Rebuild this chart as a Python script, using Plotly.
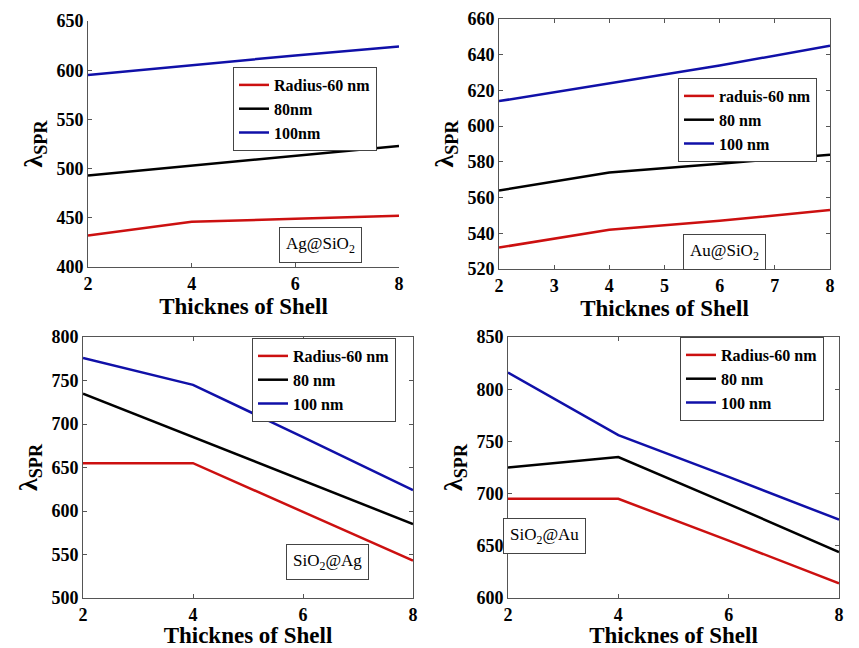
import plotly.graph_objects as go

OFF = 8                      # page body margin of the browser
W, H = 859 - OFF, 648 - OFF  # figure size so that it fills the window

# ---------------- data ----------------
shell_thickness = [2, 4, 6, 8]

ag_sio2_60 = [432, 446, 449, 452]
ag_sio2_80 = [493, 503, 513, 523]
ag_sio2_100 = [595, 605, 615, 624]

au_sio2_60 = [532, 542, 547, 553]
au_sio2_80 = [564, 574, 579, 584]
au_sio2_100 = [614, 624, 634, 645]

sio2_ag_60 = [655, 655, 599, 543]
sio2_ag_80 = [735, 685, 635, 585]
sio2_ag_100 = [776, 745, 685, 624]

sio2_au_60 = [695, 695, 655, 614]
sio2_au_80 = [725, 735, 690, 644]
sio2_au_100 = [816, 756, 716, 675]

names_p1 = ["Radius-60 nm", "80nm", "100nm"]
names_p2 = ["raduis-60 nm", "80 nm", "100 nm"]
names_p3 = ["Radius-60 nm", "80 nm", "100 nm"]
names_p4 = ["Radius-60 nm", "80 nm", "100 nm"]

labels = ["Ag@SiO<sub>2</sub>", "Au@SiO<sub>2</sub>", "SiO<sub>2</sub>@Ag", "SiO<sub>2</sub>@Au"]

# ---------------- style ----------------
FONT = "Liberation Serif, Times New Roman, serif"
RED = "#cc1010"
BLACK = "#000000"
BLUE = "#1010a8"
colors = [RED, BLACK, BLUE]


def px_x(p):
    return (p - OFF) / W


def px_y(p):
    return 1 - (p - OFF) / H


# panel pixel boxes in window pixels: (left, right, top, bottom)
boxes = [
    (88, 399, 21, 267),
    (499, 830, 19, 269),
    (83, 413, 337, 598),
    (508, 839, 337, 598),
]
yranges = [(400, 650), (520, 660), (500, 800), (600, 850)]
ydticks = [50, 20, 50, 50]
xdticks = [2, 1, 2, 2]
mirrors = [False, "ticks", "ticks", "ticks"]
legend_pos = [(233, 67), (678, 78), (252, 338), (680, 337)]
label_pos = [(320, 245), (766, 252), (327, 580), (586, 554)]

series = [
    ([ag_sio2_60, ag_sio2_80, ag_sio2_100], names_p1),
    ([au_sio2_60, au_sio2_80, au_sio2_100], names_p2),
    ([sio2_ag_60, sio2_ag_80, sio2_ag_100], names_p3),
    ([sio2_au_60, sio2_au_80, sio2_au_100], names_p4),
]

fig = go.Figure()
layout = dict(
    width=W, height=H,
    margin=dict(l=0, r=0, t=0, b=0, autoexpand=False),
    paper_bgcolor="white", plot_bgcolor="white",
    font=dict(family=FONT, color="black"),
    showlegend=True,
)
annotations = []

for i in range(4):
    idx = "" if i == 0 else str(i + 1)
    xa = "x" + idx
    ya = "y" + idx
    lg = "legend" + idx
    vals, names = series[i]
    for v, n, c in zip(vals, names, colors):
        fig.add_trace(go.Scatter(
            x=shell_thickness, y=v, name=n, mode="lines",
            line=dict(color=c, width=2.5),
            xaxis=xa, yaxis=ya, legend=lg,
        ))
    l, r, t, b = boxes[i]
    layout["xaxis" + idx] = dict(
        domain=[px_x(l), px_x(r)], anchor=ya, range=[2, 8],
        dtick=xdticks[i], tick0=2, automargin=False,
        ticklabeloverflow="allow",
        showline=True, linecolor="#555555", linewidth=1, mirror=mirrors[i],
        ticks="inside", ticklen=4, tickcolor="#555555",
        showgrid=False, zeroline=False,
        tickfont=dict(family=FONT, size=18, weight="bold"),
        title=dict(text="Thicknes of Shell", standoff=0,
                   font=dict(family=FONT, size=23, weight="bold")),
    )
    layout["yaxis" + idx] = dict(
        domain=[px_y(b), px_y(t)], anchor=xa, range=list(yranges[i]),
        dtick=ydticks[i], automargin=False,
        ticklabeloverflow="allow",
        showline=True, linecolor="#555555", linewidth=1, mirror=mirrors[i],
        ticks="inside", ticklen=4, tickcolor="#555555",
        showgrid=False, zeroline=False,
        tickfont=dict(family=FONT, size=18, weight="bold"),
        title=dict(text="λ<sub>SPR</sub>", standoff=6,
                   font=dict(family=FONT, size=26, weight="bold")),
    )
    lx, ly = legend_pos[i]
    layout[lg] = dict(
        x=px_x(lx), y=px_y(ly), xanchor="left", yanchor="top",
        bordercolor="#444444", borderwidth=1, bgcolor="white",
        font=dict(family=FONT, size=16, weight="bold"),
        tracegroupgap=0, itemwidth=30,
    )
    ax, ay = label_pos[i]
    annotations.append(dict(
        x=px_x(ax), y=px_y(ay), xref="paper", yref="paper",
        text=labels[i], showarrow=False,
        font=dict(family=FONT, size=17, color="black"),
        bordercolor="#444444", borderwidth=1, borderpad=6, bgcolor="white",
    ))

layout["annotations"] = annotations
fig.update_layout(**layout)
fig.write_html("out.html")
